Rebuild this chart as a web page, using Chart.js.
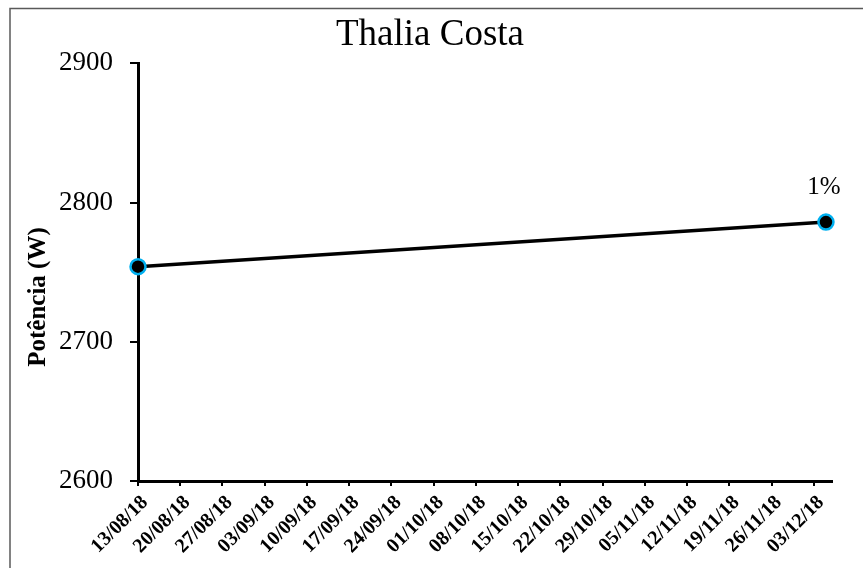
<!DOCTYPE html>
<html>
<head>
<meta charset="utf-8">
<script src="https://cdn.jsdelivr.net/npm/chart.js@4"></script>
<style>
  html, body { margin: 0; padding: 0; background: #fff; }
  canvas { display: block; }
</style>
</head>
<body>
<canvas id="chart" width="863" height="568"></canvas>
<script>
// data
const dates = ['13/08/18', '05/12/18']
const potencia = [2754, 2786]
const variacao = ['', '1%']
const tickLabels = ['13/08/18', '20/08/18', '27/08/18', '03/09/18', '10/09/18', '17/09/18', '24/09/18',
    '01/10/18', '08/10/18', '15/10/18', '22/10/18', '29/10/18', '05/11/18', '12/11/18', '19/11/18',
    '26/11/18', '03/12/18']
const yTicks = [2600, 2700, 2800, 2900]
const xMaxDate = '06/12/18'

function toDay(s) {
    const [d, m, y] = s.split('/').map(Number)
    return Date.UTC(2000 + y, m - 1, d) / 86400000
}
const day0 = toDay(tickLabels[0])
const points = dates.map((d, i) => ({ x: toDay(d) - day0, y: potencia[i] }))

Chart.defaults.font.family = "'Liberation Serif', 'Times New Roman', serif"
Chart.defaults.color = '#000'

const frame = {
    id: 'frame',
    beforeDraw(chart) {
        const ctx = chart.ctx
        ctx.save()
        ctx.strokeStyle = '#595959'
        ctx.lineWidth = 1.5
        ctx.strokeRect(10, 8.5, 900, 600)
        ctx.restore()
    },
}

const yTitle = {
    id: 'yTitle',
    afterDraw(chart) {
        const ctx = chart.ctx
        ctx.save()
        ctx.translate(39, 297)
        ctx.rotate(-Math.PI / 2)
        ctx.font = "bold 25px 'Liberation Serif', serif"
        ctx.fillStyle = '#000'
        ctx.textAlign = 'center'
        ctx.textBaseline = 'middle'
        ctx.fillText('Potência (W)', 0, 0)
        ctx.restore()
    },
}

const pointLabels = {
    id: 'pointLabels',
    afterDatasetsDraw(chart) {
        const ctx = chart.ctx
        const meta = chart.getDatasetMeta(0)
        ctx.save()
        ctx.font = "25px 'Liberation Serif', serif"
        ctx.fillStyle = '#000'
        ctx.textAlign = 'center'
        ctx.textBaseline = 'alphabetic'
        meta.data.forEach((pt, i) => {
            if (variacao[i]) ctx.fillText(variacao[i], pt.x - 2, pt.y - 28)
        })
        ctx.restore()
    },
}

const config = {
    type: 'line',
    data: {
        datasets: [
            {
                data: points,
                borderColor: '#000',
                borderWidth: 3.5,
                backgroundColor: '#000',
                pointBackgroundColor: '#000',
                pointBorderColor: '#00B0F0',
                pointBorderWidth: 2.5,
                pointRadius: 7.5,
                tension: 0,
                clip: false,
            },
        ],
    },
    options: {
        responsive: false,
        animation: false,
        layout: { padding: { left: 28, right: 31, top: 0, bottom: 0 } },
        plugins: {
            legend: { display: false },
            tooltip: { enabled: false },
            title: {
                display: true,
                text: 'Thalia Costa',
                font: { size: 37, weight: 'normal' },
                color: '#000',
                padding: { top: 13, bottom: 6 },
            },
        },
        scales: {
            x: {
                type: 'linear',
                min: 0,
                max: toDay(xMaxDate) - day0,
                border: { color: '#000', width: 3 },
                grid: { drawOnChartArea: false, drawTicks: true, tickLength: 5, color: '#000', lineWidth: 2 },
                ticks: {
                    stepSize: 7,
                    autoSkip: false,
                    maxRotation: 45,
                    minRotation: 45,
                    padding: 5,
                    labelOffset: 7,
                    font: { size: 20, weight: 'bold' },
                    callback: (v) => tickLabels[v / 7],
                },
                afterBuildTicks: (scale) => {
                    scale.ticks = tickLabels.map((t, i) => ({ value: i * 7 }))
                },
                afterFit: (scale) => { scale.height = 87 },
            },
            y: {
                min: yTicks[0],
                max: yTicks[yTicks.length - 1],
                border: { color: '#000', width: 3 },
                grid: { drawOnChartArea: false, drawTicks: true, tickLength: 8, color: '#000', lineWidth: 2 },
                ticks: {
                    stepSize: 100,
                    padding: 17,
                    font: { size: 27 },
                    callback: (v) => String(v),
                },
                afterBuildTicks: (scale) => {
                    scale.ticks = yTicks.map((v) => ({ value: v }))
                },
                afterFit: (scale) => { scale.width = 110 },
            },
        },
    },
    plugins: [frame, yTitle, pointLabels],
}

const chartCtx = document.getElementById('chart')
window.myChart = new Chart(chartCtx, config)
</script>
</body>
</html>
